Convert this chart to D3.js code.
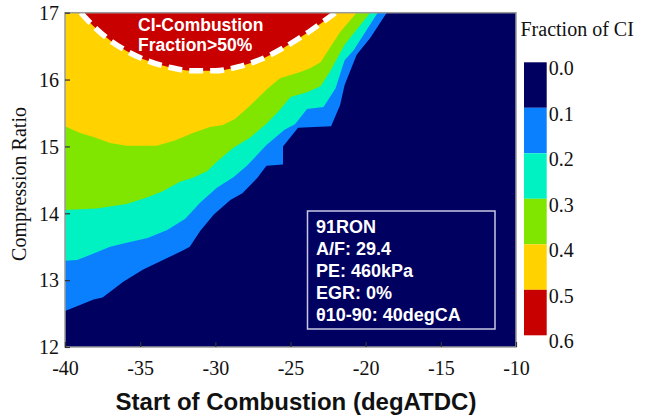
<!DOCTYPE html>
<html>
<head>
<meta charset="utf-8">
<script src="https://cdn.jsdelivr.net/npm/d3@7"></script>
<style>
  html, body { margin: 0; padding: 0; background: #fff; }
  svg { display: block; }
</style>
</head>
<body>
<svg id="chart" width="653" height="416"></svg>
<script>
// Fraction of CI combustion vs. start of combustion and compression ratio.
// Each contour boundary is a list of [SOC (degATDC), compression ratio] points;
// the region above a boundary has a CI fraction greater than its level.
const socTicks = [-40, -35, -30, -25, -20, -15, -10];
const crTicks = [12, 13, 14, 15, 16, 17];
const levels = [0.0, 0.1, 0.2, 0.3, 0.4, 0.5, 0.6];
const levelColors = ["#000060", "#0a80ff", "#00f2c2", "#80e600", "#ffd200", "#c80000"];

const ci10 = [[-40,12.54],[-39,12.63],[-38.1,12.71],[-37.5,12.74],[-36.8,12.86],[-36.1,12.98],
  [-34.8,13.16],[-33.2,13.33],[-32.1,13.45],[-31.7,13.5],[-31,13.74],[-30.1,13.98],[-29,14.2],
  [-28.2,14.3],[-27.2,14.53],[-26.6,14.71],[-25.5,14.73],[-25.5,15.0],[-24.5,15.28],[-22.3,15.3],
  [-21.7,15.62],[-21.4,15.92],[-20.6,16.37],[-19.7,16.62],[-18.6,17]];
const ci20 = [[-40,13.29],[-39.2,13.3],[-38.3,13.38],[-37,13.5],[-35.9,13.56],[-34.5,13.63],
  [-33.2,13.75],[-32,13.92],[-31,14.16],[-29.9,14.38],[-28.8,14.54],[-27.9,14.71],[-26.6,15.02],
  [-25.4,15.25],[-24.7,15.33],[-23.9,15.56],[-22.8,15.59],[-22,15.87],[-21.4,16.29],[-20.8,16.44],
  [-19.2,17]];
const ci30 = [[-40,14.05],[-37.9,14.07],[-35.9,14.14],[-34.5,14.24],[-33.5,14.33],[-32.35,14.47],
  [-31.5,14.53],[-30.55,14.63],[-29.9,14.77],[-28.8,14.98],[-27.7,15.13],[-26.6,15.34],[-25.7,15.55],
  [-25,15.74],[-23.9,15.81],[-23,15.9],[-22.4,16.11],[-21.4,16.52],[-19.7,17]];
const ci40 = [[-40,15.3],[-39,15.2],[-38.1,15.14],[-37,15.05],[-35.9,15.01],[-33.9,15.01],
  [-32.7,15.09],[-31.5,15.2],[-30.35,15.29],[-29.5,15.32],[-28.7,15.41],[-27.7,15.61],[-26.5,15.87],
  [-25.7,16.02],[-24.4,16.11],[-23.7,16.17],[-23,16.26],[-22.4,16.47],[-21.7,16.71],[-20.6,17]];
const ci50 = [[-38.95,17],[-38.2,16.82],[-37.2,16.62],[-36,16.44],[-34.5,16.28],[-33,16.18],
  [-31.5,16.13],[-30,16.13],[-28.5,16.19],[-27,16.3],[-25.5,16.47],[-24,16.68],[-22.8,16.87],[-22,17]];
const boundaries = [ci10, ci20, ci30, ci40, ci50];

const infoLines = ["91RON", "A/F: 29.4", "PE: 460kPa", "EGR: 0%", "\u03b810-90: 40degCA"];

const svg = d3.select("#chart");
const m = { left: 65, top: 12.7, right: 516, bottom: 347 };

const x = d3.scaleLinear().domain([-40, -10]).range([m.left, m.right]);
const y = d3.scaleLinear().domain([12, 17]).range([m.bottom, m.top]);

svg.append("clipPath").attr("id", "plotClip")
  .append("rect").attr("x", m.left).attr("y", m.top)
  .attr("width", m.right - m.left).attr("height", m.bottom - m.top);

const plot = svg.append("g").attr("clip-path", "url(#plotClip)");

// Lowest band fills the whole plot
plot.append("rect")
  .attr("x", x(-40)).attr("y", y(17))
  .attr("width", x(-10) - x(-40)).attr("height", y(12) - y(17))
  .attr("fill", levelColors[0]);

// Each higher band covers the area above its boundary
boundaries.forEach((b, i) => {
  const area = d3.area()
    .x(d => x(d[0]))
    .y0(d => y(d[1]))
    .y1(y(17))
    .curve(i === 4 ? d3.curveMonotoneX : d3.curveLinear);
  plot.append("path").datum(b).attr("d", area).attr("fill", levelColors[i + 1]);
});

// Dashed outline of the >50% region
plot.append("path").datum(ci50)
  .attr("d", d3.line().x(d => x(d[0])).y(d => y(d[1])).curve(d3.curveMonotoneX))
  .attr("fill", "none").attr("stroke", "#fff").attr("stroke-width", 5.5)
  .attr("stroke-dasharray", "14,7");

// Region label
const lab = svg.append("text")
  .attr("font-family", "Liberation Sans, Arial, sans-serif").attr("font-weight", "bold")
  .attr("font-size", 17.5).attr("fill", "#fff");
lab.append("tspan").attr("x", 138).attr("y", 31).text("CI-Combustion");
lab.append("tspan").attr("x", 138).attr("y", 50.5).text("Fraction>50%");

// Operating condition box
svg.append("rect")
  .attr("x", 307.5).attr("y", 211).attr("width", 187.5).attr("height", 118)
  .attr("fill", "none").attr("stroke", "#c8c8e6").attr("stroke-width", 1.5);
svg.append("g").selectAll("text").data(infoLines).join("text")
  .attr("x", 316).attr("y", (d, i) => 232.5 + i * 22)
  .attr("font-family", "Liberation Sans, Arial, sans-serif").attr("font-weight", "bold")
  .attr("font-size", 18).attr("fill", "#fff")
  .text(d => d);

// Frame
svg.append("rect")
  .attr("x", m.left).attr("y", m.top)
  .attr("width", m.right - m.left).attr("height", m.bottom - m.top)
  .attr("fill", "none").attr("stroke", "#9a9a9a").attr("stroke-width", 1.5);

// Axes with inward ticks
const serif = "Liberation Serif, Times New Roman, serif";
const xAxis = svg.append("g").attr("transform", `translate(0,${m.bottom})`)
  .call(d3.axisBottom(x).tickValues(socTicks).tickSize(-5).tickPadding(14).tickFormat(d3.format("d")));
const yAxis = svg.append("g").attr("transform", `translate(${m.left},0)`)
  .call(d3.axisLeft(y).tickValues(crTicks).tickSize(-5).tickPadding(6).tickFormat(d3.format("d")));
[xAxis, yAxis].forEach(a => {
  a.attr("font-family", serif);
  a.select(".domain").remove();
  a.selectAll(".tick line").attr("stroke", "#333").attr("stroke-width", 1.2);
  a.selectAll(".tick text").attr("font-family", serif).attr("font-size", 20).attr("fill", "#111");
});
xAxis.selectAll(".tick text").text(d => d3.format("d")(d).replace("\u2212", "-"));
yAxis.selectAll(".tick text").attr("dy", "0.34em");

svg.append("text")
  .attr("x", 296).attr("y", 410).attr("text-anchor", "middle")
  .attr("font-family", "Liberation Sans, Arial, sans-serif").attr("font-weight", "bold")
  .attr("font-size", 24).attr("fill", "#111")
  .text("Start of Combustion (degATDC)");

svg.append("text")
  .attr("transform", "translate(26,184) rotate(-90)").attr("text-anchor", "middle")
  .attr("font-family", serif).attr("font-size", 20).attr("fill", "#111")
  .text("Compression Ratio");

// Colour bar
const cb = d3.scaleLinear().domain([0, 0.6]).range([62.3, 335.3]);
const bands = d3.pairs(levels);
svg.append("g").selectAll("rect").data(bands).join("rect")
  .attr("x", 524).attr("width", 22.7)
  .attr("y", d => cb(d[0])).attr("height", d => cb(d[1]) - cb(d[0]))
  .attr("fill", (d, i) => levelColors[i]);
const cbAxis = svg.append("g").attr("transform", "translate(546.7,0)")
  .call(d3.axisRight(cb).tickValues(levels).tickSize(0).tickPadding(2).tickFormat(d3.format(".1f")));
cbAxis.attr("font-family", serif);
cbAxis.select(".domain").remove();
cbAxis.selectAll(".tick text")
  .attr("font-family", serif).attr("font-size", 20).attr("fill", "#111").attr("dy", "0.62em");

svg.append("text")
  .attr("x", 520.5).attr("y", 36)
  .attr("font-family", serif).attr("font-size", 20).attr("fill", "#111")
  .text("Fraction of CI");
</script>
</body>
</html>
